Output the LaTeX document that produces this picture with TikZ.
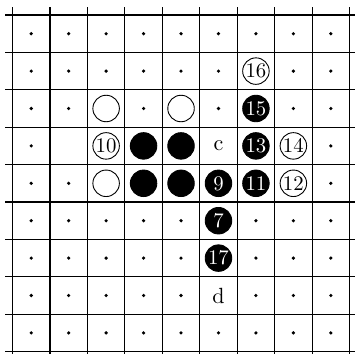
\documentclass[tikz,border=0pt]{standalone}
\usepackage{graphicx}
\usepackage{fontspec}
\setmainfont{Latin Modern Roman}
\newcommand\gotxt[1]{\scalebox{2.08}{\fontsize{10}{10}\selectfont #1}}
\newcommand\golbl[1]{\scalebox{2.2}{\fontsize{10}{10}\selectfont #1}}
\begin{document}
\begin{tikzpicture}[x=1pt,y=-1pt,
  gridline/.style={line width=1.1pt,black},
  pt/.style={circle,fill=black,inner sep=0pt,minimum size=3.6pt},
  wstone/.style={circle,draw=black,line width=0.9pt,fill=white,inner sep=0pt,minimum size=26.5pt},
  bstone/.style={circle,draw=black,line width=0.9pt,fill=black,text=white,inner sep=0pt,minimum size=26.5pt},
  lbl/.style={inner sep=0pt}]
\useasboundingbox (0,0) rectangle (355,354);
\def\cx#1{12.5+37.45*(#1-0.5)}
\def\cy#1{15+37.4*(#1-0.5)}
% grid
\foreach \k in {0,...,9}{
  \draw[gridline] ({12.5+37.45*\k},7) -- ({12.5+37.45*\k},354);
  \draw[gridline] (5,{15+37.4*\k}) -- (355,{15+37.4*\k});
}
% dots
\foreach \r/\cols in {1/{1,2,3,4,5,6,7,8,9},2/{1,2,3,4,5,6,8,9},3/{1,2,4,6,8,9},4/{1,9},5/{1,2,9},6/{1,2,3,4,5,7,8,9},7/{1,2,3,4,5,7,8,9},8/{1,2,3,4,5,7,8,9},9/{1,2,3,4,5,6,7,8,9}}{
  \foreach \c in \cols{
    \node[pt] (p\c-\r) at ({\cx{\c}},{\cy{\r}}) {};
  }
}
% stones
\node[wstone] (w33) at ({\cx{3}},{\cy{3}}) {};
\node[wstone] (w53) at ({\cx{5}},{\cy{3}}) {};
\node[wstone] (s16) at ({\cx{7}},{\cy{2}}) {\gotxt{16}};
\node[bstone] (s15) at ({\cx{7}},{\cy{3}}) {\gotxt{15}};
\node[wstone] (s10) at ({\cx{3}},{\cy{4}}) {\gotxt{10}};
\node[bstone] (b44) at ({\cx{4}},{\cy{4}}) {};
\node[bstone] (b54) at ({\cx{5}},{\cy{4}}) {};
\node[lbl] (lc) at ({\cx{6}},{\cy{4}}) {\golbl{c}};
\node[bstone] (s13) at ({\cx{7}},{\cy{4}}) {\gotxt{13}};
\node[wstone] (s14) at ({\cx{8}},{\cy{4}}) {\gotxt{14}};
\node[wstone] (w35) at ({\cx{3}},{\cy{5}}) {};
\node[bstone] (b45) at ({\cx{4}},{\cy{5}}) {};
\node[bstone] (b55) at ({\cx{5}},{\cy{5}}) {};
\node[bstone] (s9) at ({\cx{6}},{\cy{5}}) {\gotxt{9}};
\node[bstone] (s11) at ({\cx{7}},{\cy{5}}) {\gotxt{11}};
\node[wstone] (s12) at ({\cx{8}},{\cy{5}}) {\gotxt{12}};
\node[bstone] (s7) at ({\cx{6}},{\cy{6}}) {\gotxt{7}};
\node[bstone] (s17) at ({\cx{6}},{\cy{7}}) {\gotxt{17}};
\node[lbl] (ld) at ({\cx{6}},{\cy{8}}) {\golbl{d}};
\end{tikzpicture}
\end{document}
